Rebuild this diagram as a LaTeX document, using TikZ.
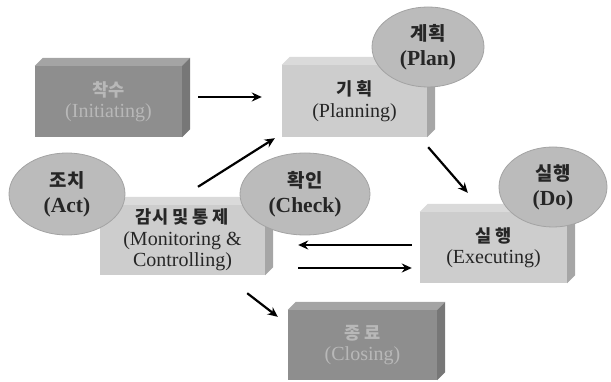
\documentclass[tikz,border=0pt]{standalone}
\usepackage{fontspec}
\setmainfont{Liberation Serif}
\newfontfamily\kr{Noto Sans CJK KR}[Scale=0.88]
\usetikzlibrary{shapes.geometric}
\usetikzlibrary{arrows.meta}
\definecolor{darkfront}{HTML}{8E8E8E}
\definecolor{darktop}{HTML}{A4A4A4}
\definecolor{darkside}{HTML}{777777}
\definecolor{lightfront}{HTML}{CDCDCD}
\definecolor{lighttop}{HTML}{DADADA}
\definecolor{lightside}{HTML}{A6A6A6}
\definecolor{ovalfill}{HTML}{BBBBBB}
\definecolor{ovalline}{HTML}{A3A3A3}
\definecolor{paletext}{HTML}{B8B8B8}
\tikzset{
phase/.style={ % front face of a block
rectangle, inner sep=0pt, align=center,
font=\fontsize{20}{21.5}\selectfont},
darkphase/.style={phase, fill=darkfront, text=paletext},
lightphase/.style={phase, fill=lightfront, text=black!85},
cycle/.style={ % PDCA ovals
ellipse, inner sep=0pt, align=center,
fill=ovalfill, draw=ovalline, line width=0.8pt,
font=\fontsize{21.5}{25}\selectfont\bfseries, text=black!85},
flow/.style={
line width=2.2pt, -{Stealth[length=10pt,width=9pt]}}}
% top and side faces of a block
\newcommand{\faces}[3]{
\fill[#2] (#1.north west) -- ([shift={(8,-8)}]#1.north west)
  -- ([shift={(8,-8)}]#1.north east) -- (#1.north east) -- cycle;
\fill[#3] (#1.north east) -- ([shift={(8,-8)}]#1.north east)
  -- ([shift={(8,-8)}]#1.south east) -- (#1.south east) -- cycle;}

\begin{document}
\begin{tikzpicture}[x=1pt, y=-1pt]
\useasboundingbox (0,0) rectangle (611,382);
\node[darkphase, minimum width=147pt, minimum height=71pt] (init) at (108.5,101.5) {{\kr\bfseries 착수}\\(Initiating)};
\node[lightphase, minimum width=145pt, minimum height=72pt] (plan) at (354.5,101) {{\kr\bfseries 기 획}\\(Planning)};
\node[lightphase, minimum width=165pt, minimum height=70pt] (mon) at (182.5,240) {{\kr\bfseries 감시 및 통 제}\\(Monitoring \&\\Controlling)};
\node[lightphase, minimum width=147pt, minimum height=71pt] (exec) at (493.5,247.5) {{\kr\bfseries 실 행}\\(Executing)};
\node[darkphase, minimum width=149pt, minimum height=70pt] (close) at (362.5,345) {{\kr\bfseries 종 료}\\(Closing)};
\faces{init}{darktop}{darkside}
\faces{plan}{lighttop}{lightside}
\faces{mon}{lighttop}{lightside}
\faces{exec}{lighttop}{lightside}
\faces{close}{darktop}{darkside}

\node[cycle, minimum width=112pt, minimum height=80pt] (planE) at (428,47) {{\kr 계획}\\(Plan)};
\node[cycle, minimum width=116pt, minimum height=82pt] (actE) at (67,194) {{\kr 조치}\\(Act)};
\node[cycle, minimum width=130pt, minimum height=82pt] (checkE) at (305,194) {{\kr 확인}\\(Check)};
\node[cycle, minimum width=108pt, minimum height=80pt] (doE) at (553,187) {{\kr 실행}\\(Do)};

\draw[flow, shorten <=16pt, shorten >=20pt] ([shift={(0,-4.5)}]init.east) -- ([shift={(0,-4)}]plan.west);
\draw[flow] ([shift={(15.5,-18)}]mon.north) -- ([shift={(-7,1)}]plan.south west);
\draw[flow] ([shift={(1,10)}]plan.south east) -- ([shift={(48,-19)}]exec.north west);
\draw[flow, shorten <=8pt, shorten >=33pt] ([shift={(0,-2.5)}]exec.west) -- ([shift={(0,5)}]mon.east);
\draw[flow, shorten <=33pt, shorten >=8pt] ([shift={(0,28)}]mon.east) -- ([shift={(0,20.5)}]exec.west);
\draw[flow] ([shift={(-18,18)}]mon.south east) -- ([shift={(-10,7)}]close.north west);
\end{tikzpicture}
\end{document}
